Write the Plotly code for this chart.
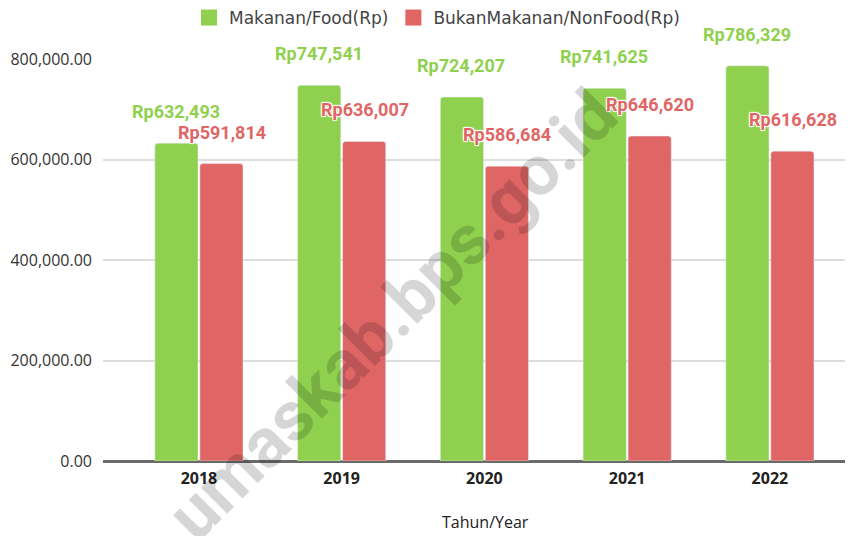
import plotly.graph_objects as go

years = ["2018", "2019", "2020", "2021", "2022"]
food = [632493, 747541, 724207, 741625, 786329]
nonfood = [591814, 636007, 586684, 646620, 616628]
food_name = "Makanan/Food(Rp)"
nonfood_name = "BukanMakanan/NonFood(Rp)"
x_title = "Tahun/Year"
y_ticks = [0, 200000, 400000, 600000, 800000]

GREEN = "#8fd14f"
RED = "#e06666"

# page body has an 8px default margin; figure sized to fit the window
OFF = 8
W, H = 855 - OFF, 536 - OFF
L, T = 103 - OFF, 59 - OFF
PW, PH = 742, 402
R, B = W - L - PW, H - T - PH

fig = go.Figure()
fig.add_trace(go.Bar(x=years, y=food, name=food_name, showlegend=False,
                     marker=dict(color=GREEN, cornerradius=3)))
fig.add_trace(go.Bar(x=years, y=nonfood, name=nonfood_name, showlegend=False,
                     marker=dict(color=RED, cornerradius=3)))
# legend-only entries with larger square swatches
for name, col in ((food_name, GREEN), (nonfood_name, RED)):
    fig.add_trace(go.Scatter(x=[None], y=[None], mode="markers", name=name,
                             marker=dict(symbol="square", size=18, color=col)))

shadow = "1px 1px 1px white, -1px -1px 1px white, 1px -1px 1px white, -1px 1px 1px white"
annotations = []
for i, (f, n) in enumerate(zip(food, nonfood)):
    for val, col, xs in ((f, GREEN, -23), (n, RED, 23)):
        annotations.append(dict(
            x=i, y=val, xref="x", yref="y", text="Rp{:,}".format(val),
            showarrow=False, xshift=xs, yshift=19, yanchor="bottom",
            font=dict(family="Roboto", size=18, color=col, weight="bold", shadow=shadow)))

wx, wy = 392 - OFF, 315 - OFF
annotations.append(dict(
    x=(wx - L) / PW, y=(T + PH - wy) / PH, xref="paper", yref="paper",
    text="umaskab.bps.go.id", showarrow=False, textangle=-45,
    font=dict(family="Roboto", size=70, color="rgba(0,0,0,0.16)", weight="bold")))

tx, ty = 485 - OFF, 522 - OFF
annotations.append(dict(
    x=(tx - L) / PW, y=(T + PH - ty) / PH, xref="paper", yref="paper",
    text=x_title, showarrow=False, yanchor="middle",
    font=dict(family="Open Sans", size=16, color="#222")))

fig.update_layout(
    width=W, height=H,
    margin=dict(l=L, r=R, t=T, b=B, autoexpand=False),
    paper_bgcolor="white", plot_bgcolor="white",
    barmode="group", bargap=0.37, bargroupgap=0.04,
    font=dict(family="Open Sans", color="#333"),
    legend=dict(orientation="h", xref="container", yref="container",
                x=(437 - OFF) / W, xanchor="center", y=1 - (18 - OFF) / H, yanchor="middle",
                itemsizing="trace",
                font=dict(family="DejaVu Sans", size=17, color="#444")),
    annotations=annotations,
    xaxis=dict(type="category", range=[-0.672, 4.526],
               tickfont=dict(family="Open Sans", size=16, color="#222", weight="bold"),
               showline=False, ticks="", ticklabelstandoff=6),
    yaxis=dict(range=[0, 800000], tickvals=y_ticks, tickformat=",.2f",
               tickfont=dict(family="Open Sans", size=16, color="#333"),
               gridcolor="#dddddd", gridwidth=1.5,
               zeroline=True, zerolinecolor="#6b6b6b", zerolinewidth=2.5,
               ticklabelstandoff=10),
)

fig.write_html("out.html")
